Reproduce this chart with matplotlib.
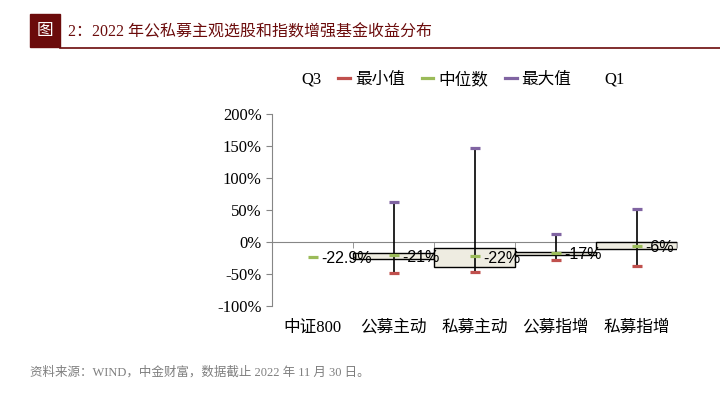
import numpy as np
import matplotlib
matplotlib.use('Agg')
import matplotlib.pyplot as plt
from matplotlib.lines import Line2D
from matplotlib.patches import Rectangle

# data (percent); 中证800 has a single value, so no box / whiskers
categories = ['中证800', '公募主动', '私募主动', '公募指增', '私募指增']
min_vals = [np.nan, -48, -47, -28, -37]
q1_vals = [np.nan, -26.6, -39, -21, -11]
median_vals = [-22.9, -21, -22, -17, -6]
q3_vals = [np.nan, -16.7, -9.5, -15, -0.5]
max_vals = [np.nan, 62, 147, 13, 52]
median_labels = ['-22.9%', '-21%', '-22%', '-17%', '-6%']

# colours
dark_red = '#6B0B0B'
c_min = '#C0504D'
c_med = '#9BBB59'
c_max = '#8064A2'
c_box = '#EEECE1'
c_axis = '#868686'

serif_cjk = ['Liberation Serif', 'Noto Sans CJK SC']

fig = plt.figure(figsize=(7.2, 3.95), dpi=100)
ax = fig.add_axes([272 / 720, 1 - 306 / 395, 405 / 720, 192 / 395])

x = np.arange(len(categories))
q1 = np.array(q1_vals)
q3 = np.array(q3_vals)
has_box = ~np.isnan(q1)

# boxes (Q1..Q3), full category width like the Excel stacked-bar trick
ax.bar(x[has_box], (q3 - q1)[has_box], bottom=q1[has_box], width=1.0, color=c_box,
       edgecolor='black', linewidth=1.0, zorder=2)
# whiskers
ax.vlines(x, min_vals, max_vals, color='black', linewidth=1.2, zorder=3)
ax.plot(x, min_vals, ls='none', marker='_', ms=7.5, mew=2.3, color=c_min, zorder=4)
ax.plot(x, max_vals, ls='none', marker='_', ms=7.5, mew=2.3, color=c_max, zorder=4)
ax.plot(x, median_vals, ls='none', marker='_', ms=7.5, mew=2.3, color=c_med, zorder=4)

for xi, yi, lab in zip(x, median_vals, median_labels):
    ax.annotate(lab, (xi, yi), xytext=(6, -1.5), textcoords='offset points',
                ha='left', va='center', fontsize=11.5, family='Liberation Sans',
                zorder=5)

ax.set_xlim(-0.5, len(categories) - 0.5)
ax.set_ylim(-100, 200)
ax.set_yticks(np.arange(-100, 201, 50))
ax.set_yticklabels([f'{v}%' for v in range(-100, 201, 50)],
                   family='Liberation Serif', fontsize=12)

for s in ['top', 'right']:
    ax.spines[s].set_visible(False)
ax.spines['left'].set_color(c_axis)
ax.spines['bottom'].set_position(('data', 0))
ax.spines['bottom'].set_color(c_axis)
ax.spines['bottom'].set_zorder(1)
ax.tick_params(axis='y', colors=c_axis, labelcolor='black', length=4, direction='out')

# category boundary ticks on the zero line
ax.set_xticks(x)
ax.set_xticklabels([])
ax.tick_params(axis='x', which='major', length=0)
ax.set_xticks(np.arange(len(categories) + 1) - 0.5, minor=True)
ax.tick_params(axis='x', which='minor', length=4, color=c_axis, direction='out')

# category labels at the bottom
sec = ax.secondary_xaxis('bottom')
sec.set_xticks(x)
sec.set_xticklabels(categories, family=serif_cjk, fontsize=12)
sec.tick_params(length=0, pad=10)
sec.spines['bottom'].set_visible(False)

# legend
handles = [
    Line2D([], [], color='none'),
    Line2D([], [], color=c_min, lw=2.3),
    Line2D([], [], color=c_med, lw=2.3),
    Line2D([], [], color=c_max, lw=2.3),
    Line2D([], [], color='none'),
]
fig.legend(handles, ['Q3', '最小值', '中位数', '最大值', 'Q1'], ncol=5,
           loc='center', bbox_to_anchor=(455 / 720, 1 - 80 / 395), frameon=False,
           prop={'family': serif_cjk, 'size': 12}, handlelength=0.7,
           handletextpad=0.3, columnspacing=1.0)

# header
fig.patches.append(Rectangle((30 / 720, 1 - 47 / 395), 30 / 720, 33 / 395,
                             transform=fig.transFigure, color=dark_red))
fig.text(45 / 720, 1 - 31 / 395, '图', color='white', fontsize=12,
         family='Noto Sans CJK SC', ha='center', va='center')
fig.add_artist(Line2D([60 / 720, 1], [1 - 47.5 / 395, 1 - 47.5 / 395],
                      transform=fig.transFigure, color=dark_red, lw=1.2))
fig.text(68 / 720, 1 - 32 / 395, '2：2022 年公私募主观选股和指数增强基金收益分布',
         color=dark_red, fontsize=11.5, family=serif_cjk, ha='left', va='center')

# footnote
fig.text(30 / 720, 1 - 372 / 395, '资料来源：WIND，中金财富，数据截止 2022 年 11 月 30 日。',
         color='#7F7F7F', fontsize=9, family=serif_cjk, ha='left', va='center')

plt.savefig('out.png', dpi=100)
plt.close()
